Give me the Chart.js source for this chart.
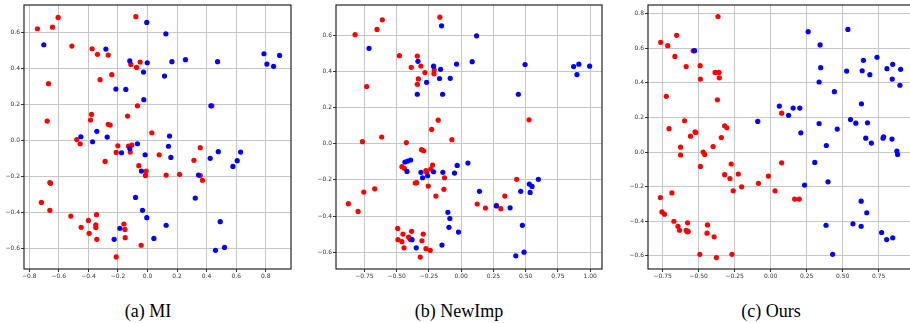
<!DOCTYPE html>
<html><head><meta charset="utf-8">
<script src="https://cdn.jsdelivr.net/npm/chart.js@4/dist/chart.umd.min.js"></script>
<style>
html,body{margin:0;padding:0;background:#fff;width:910px;height:323px;overflow:hidden;position:relative;}
canvas{position:absolute;top:0;}
.cap{position:absolute;top:301px;font-family:"Liberation Serif","Times New Roman",serif;font-size:18px;color:#000;text-align:center;width:200px;white-space:nowrap;}
</style></head><body>
<canvas id="c1" width="300" height="300" style="left:0px"></canvas>
<canvas id="c2" width="310" height="300" style="left:300px"></canvas>
<canvas id="c3" width="310" height="300" style="left:605px"></canvas>
<div class="cap" style="left:48px">(a) MI</div>
<div class="cap" style="left:359px">(b) NewImp</div>
<div class="cap" style="left:671px">(c) Ours</div>
<script>
// ---- Panel (a) MI ----
const miRed = [[-0.745,0.622],[-0.643,0.631],[-0.605,0.685],[-0.512,0.526],[-0.670,0.317],[-0.679,0.109],[-0.375,0.511],[-0.339,0.480],[-0.266,0.476],[-0.321,0.339],[-0.242,0.367],[-0.079,0.689],[-0.113,0.424],[-0.050,0.437],[-0.074,0.407],[-0.068,0.194],[-0.135,0.137],[-0.379,0.146],[-0.386,0.115],[-0.266,0.091],[-0.253,0.087],[0.029,0.044],[-0.479,0.006],[-0.456,-0.017],[-0.201,-0.028],[-0.129,-0.030],[-0.106,-0.024],[0.357,-0.039],[0.436,0.194],[-0.212,-0.065],[-0.117,-0.063],[-0.287,-0.115],[-0.059,-0.139],[-0.009,-0.169],[-0.014,-0.193],[0.079,-0.078],[0.126,-0.191],[0.217,-0.187],[0.314,-0.109],[0.357,-0.194],[0.372,-0.220],[-0.661,-0.233],[-0.656,-0.237],[-0.718,-0.343],[-0.661,-0.387],[-0.519,-0.419],[-0.400,-0.443],[-0.449,-0.481],[-0.395,-0.515],[-0.345,-0.411],[-0.350,-0.467],[-0.350,-0.483],[-0.343,-0.548],[-0.160,-0.463],[-0.153,-0.493],[-0.151,-0.539],[-0.043,-0.581],[-0.212,-0.646]];
const miBlue = [[-0.702,0.533],[-0.282,0.509],[-0.005,0.657],[0.124,0.594],[-0.120,0.443],[-0.002,0.433],[0.165,0.439],[0.257,0.450],[0.474,0.439],[-0.027,0.381],[0.115,0.359],[-0.214,0.287],[-0.147,0.285],[-0.025,0.228],[0.429,0.194],[0.788,0.483],[0.808,0.426],[0.853,0.413],[0.894,0.474],[-0.343,0.052],[-0.273,0.020],[-0.451,0.022],[-0.372,-0.006],[0.149,0.026],[-0.068,-0.017],[0.142,-0.031],[-0.120,-0.044],[-0.176,-0.067],[-0.016,-0.078],[0.158,-0.093],[-0.041,-0.169],[-0.081,-0.315],[-0.034,-0.387],[-0.005,-0.428],[0.323,-0.319],[0.345,-0.191],[0.424,-0.098],[0.479,-0.061],[0.607,-0.111],[0.630,-0.063],[0.578,-0.143],[-0.187,-0.487],[-0.226,-0.548],[0.126,-0.470],[0.043,-0.543],[0.492,-0.450],[0.460,-0.609],[0.521,-0.593]];
const miXTicks = [-0.8,-0.6,-0.4,-0.2,0.0,0.2,0.4,0.6,0.8];
const miYTicks = [-0.6,-0.4,-0.2,0.0,0.2,0.4,0.6];

// ---- Panel (b) NewImp ----
const niRed = [[-0.822,0.602],[-0.652,0.631],[-0.611,0.684],[-0.165,0.699],[-0.479,0.486],[-0.340,0.484],[-0.312,0.429],[-0.387,0.422],[-0.281,0.393],[-0.209,0.407],[-0.211,0.387],[-0.332,0.358],[-0.340,0.328],[-0.732,0.316],[-0.178,0.130],[-0.229,0.079],[-0.072,0.022],[0.526,0.132],[-0.765,0.011],[-0.616,0.037],[-0.425,0.006],[-0.307,-0.033],[-0.291,-0.039],[-0.459,-0.127],[-0.441,-0.136],[-0.273,-0.149],[-0.268,-0.158],[-0.235,-0.140],[-0.222,-0.118],[-0.345,-0.215],[-0.356,-0.217],[-0.255,-0.234],[-0.129,-0.188],[-0.134,-0.252],[-0.196,-0.289],[-0.670,-0.249],[-0.755,-0.267],[-0.874,-0.331],[-0.799,-0.374],[0.124,-0.333],[0.188,-0.355],[0.273,-0.341],[0.307,-0.359],[0.338,-0.289],[0.430,-0.197],[-0.492,-0.468],[-0.490,-0.530],[-0.451,-0.499],[-0.459,-0.541],[-0.443,-0.575],[-0.407,-0.516],[-0.394,-0.529],[-0.384,-0.484],[-0.294,-0.499],[-0.304,-0.536],[-0.273,-0.580],[-0.240,-0.589],[-0.317,-0.626]];
const niBlue = [[-0.714,0.527],[-0.152,0.651],[0.119,0.596],[-0.335,0.455],[-0.214,0.428],[-0.160,0.411],[-0.036,0.440],[0.085,0.453],[-0.168,0.360],[-0.085,0.361],[-0.268,0.339],[-0.340,0.273],[-0.144,0.273],[0.443,0.273],[0.495,0.437],[0.871,0.426],[0.912,0.439],[0.897,0.382],[0.995,0.428],[-0.436,-0.101],[-0.415,-0.096],[-0.392,-0.090],[-0.420,-0.153],[-0.312,-0.158],[-0.299,-0.188],[-0.260,-0.177],[-0.214,-0.155],[-0.142,-0.158],[-0.052,-0.162],[-0.031,-0.120],[0.052,-0.107],[0.142,-0.263],[0.273,-0.344],[0.379,-0.354],[0.461,-0.263],[0.528,-0.223],[0.549,-0.236],[0.534,-0.269],[0.598,-0.197],[0.474,-0.451],[0.487,-0.599],[0.423,-0.619],[-0.103,-0.379],[-0.088,-0.413],[-0.095,-0.462],[-0.021,-0.488],[-0.149,-0.560],[-0.348,-0.575],[-0.381,-0.530]];
const niXTicks = [-0.75,-0.50,-0.25,0.00,0.25,0.50,0.75,1.00];
const niYTicks = [-0.6,-0.4,-0.2,0.0,0.2,0.4,0.6];

// ---- Panel (c) Ours ----
const ouRed = [[-0.764,0.634],[-0.715,0.615],[-0.653,0.675],[-0.665,0.553],[-0.587,0.494],[-0.538,0.585],[-0.490,0.499],[-0.488,0.422],[-0.366,0.783],[-0.386,0.460],[-0.359,0.460],[-0.357,0.429],[-0.370,0.302],[-0.725,0.322],[-0.706,0.135],[-0.598,0.181],[-0.557,0.092],[-0.525,0.117],[-0.520,0.113],[-0.626,0.028],[-0.400,0.032],[-0.343,0.084],[-0.320,0.152],[-0.304,0.140],[0.076,0.225],[-0.626,-0.017],[-0.469,0.000],[-0.458,-0.014],[-0.488,-0.083],[-0.274,-0.069],[-0.320,-0.131],[-0.283,-0.153],[-0.225,-0.127],[-0.260,-0.224],[-0.202,-0.201],[-0.085,-0.181],[-0.016,-0.139],[0.030,-0.224],[0.076,-0.062],[0.166,-0.272],[0.198,-0.272],[-0.766,-0.263],[-0.686,-0.236],[-0.755,-0.346],[-0.738,-0.359],[-0.672,-0.400],[-0.644,-0.429],[-0.633,-0.452],[-0.577,-0.409],[-0.587,-0.452],[-0.573,-0.458],[-0.580,-0.461],[-0.439,-0.421],[-0.442,-0.469],[-0.393,-0.490],[-0.492,-0.591],[-0.377,-0.610],[-0.269,-0.591]];
const ouBlue = [[-0.529,0.586],[0.260,0.696],[0.536,0.709],[0.343,0.619],[0.347,0.488],[0.336,0.405],[0.442,0.349],[0.527,0.468],[0.635,0.470],[0.644,0.530],[0.688,0.447],[0.738,0.548],[0.807,0.482],[0.847,0.507],[0.902,0.478],[0.844,0.422],[0.897,0.386],[-0.090,0.177],[0.060,0.266],[0.124,0.212],[0.156,0.254],[0.202,0.254],[0.209,0.111],[0.336,0.165],[0.462,0.133],[0.386,0.038],[0.554,0.188],[0.591,0.167],[0.630,0.279],[0.672,0.169],[0.660,0.080],[0.699,0.052],[0.780,0.080],[0.784,0.088],[0.842,0.075],[0.876,0.006],[0.881,-0.014],[0.306,-0.060],[0.235,-0.191],[0.398,-0.172],[0.384,-0.423],[0.430,-0.591],[0.571,-0.415],[0.628,-0.284],[0.628,-0.429],[0.667,-0.351],[0.770,-0.465],[0.805,-0.506],[0.847,-0.496]];
const ouXTicks = [-0.75,-0.50,-0.25,0.00,0.25,0.50,0.75];
const ouYTicks = [-0.6,-0.4,-0.2,0.0,0.2,0.4,0.6,0.8];

const fmt = (v, d) => (v < 0 ? '\u2212' : '') + Math.abs(v).toFixed(d);

const frame = {
  id: 'frame',
  afterDraw(chart) {
    const a = chart.chartArea, ctx = chart.ctx;
    ctx.save();
    ctx.strokeStyle = '#262626';
    ctx.lineWidth = 1.2;
    ctx.strokeRect(a.left, a.top, a.right - a.left, a.bottom - a.top);
    ctx.restore();
  }
};

function axis(min, max, ticks, dec, fitKey, fitVal) {
  return {
    type: 'linear', min, max,
    afterBuildTicks: s => { s.ticks = ticks.map(v => ({ value: v })); },
    afterFit: s => { s[fitKey] = fitVal; },
    ticks: { callback: v => fmt(v, dec), font: { family: 'DejaVu Sans', size: 6 }, color: '#333', padding: 1, autoSkip: false, maxRotation: 0 },
    grid: { color: '#c6c6c6', lineWidth: 1, tickColor: '#333', tickLength: 3, drawTicks: true },
    border: { display: false }
  };
}

function make(id, red, blue, xr, yr, xt, yt, xd, yd, yW, xH, padR) {
  const toPts = arr => arr.map(p => ({ x: p[0], y: p[1] }));
  new Chart(document.getElementById(id), {
    type: 'scatter',
    data: { datasets: [
      { data: toPts(red), backgroundColor: '#ff0000', borderWidth: 0, pointRadius: 2.6, order: 2 },
      { data: toPts(blue), backgroundColor: '#0000ff', borderWidth: 0, pointRadius: 2.6, order: 1 }
    ]},
    options: {
      responsive: false, animation: false, devicePixelRatio: 1,
      layout: { padding: { top: 5, right: padR, left: 0, bottom: 0 } },
      plugins: { legend: { display: false }, tooltip: { enabled: false } },
      scales: {
        x: axis(xr[0], xr[1], xt, xd, 'height', xH),
        y: axis(yr[0], yr[1], yt, yd, 'width', yW)
      }
    },
    plugins: [frame]
  });
}

make('c1', miRed, miBlue, [-0.836, 0.971], [-0.713, 0.754], miXTicks, miYTicks, 1, 1, 24, 31, 9);
make('c2', niRed, niBlue, [-0.970, 1.091], [-0.692, 0.766], niXTicks, niYTicks, 2, 1, 36, 31, 8);
make('c3', ouRed, ouBlue, [-0.852, 0.974], [-0.676, 0.850], ouXTicks, ouYTicks, 2, 1, 43, 31, 0);
</script>
</body></html>
